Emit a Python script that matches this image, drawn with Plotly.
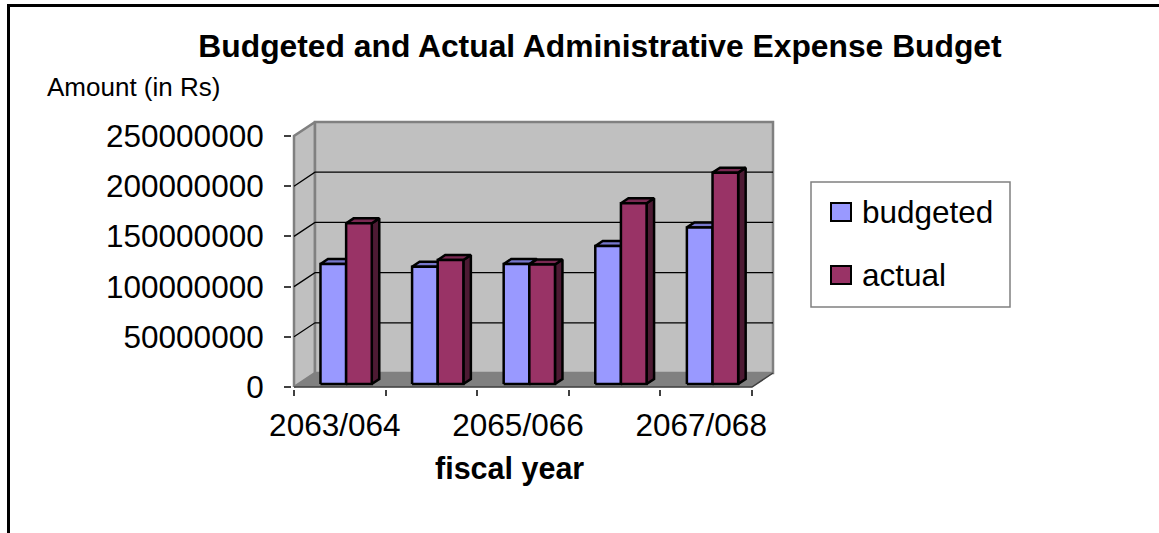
import plotly.graph_objects as go

# ---- data -------------------------------------------------------------
fiscal_years = ["2063/064", "2064/065", "2065/066", "2066/067", "2067/068"]
budgeted = [119500000, 116800000, 119500000, 137500000, 156000000]
actual = [160000000, 123500000, 119000000, 180000000, 210500000]
y_ticks = [0, 50000000, 100000000, 150000000, 200000000, 250000000]
series_names = ["budgeted", "actual"]

# ---- style ------------------------------------------------------------
FONT = "Liberation Sans, Arial, sans-serif"
FACE = {  # front, top, side
    "budgeted": ("#9999FF", "#7777CC", "#4D4D80"),
    "actual": ("#993366", "#7A2952", "#4D1A33"),
}
WALL = "#C0C0C0"
WALL_EDGE = "#808080"
FLOOR = "#808080"

W, H = 1159, 533
CAT_PX = 91.6                 # pixels per category on the front plane
VAL_PX = 251 / 250000000      # pixels per rupee
DEPTH_X_PX, DEPTH_Y_PX = 21, 14
PAD = 2

N = len(fiscal_years)
Y_MAX = y_ticks[-1]
DX = DEPTH_X_PX / CAT_PX
DY = DEPTH_Y_PX / VAL_PX
PX_X = PAD / CAT_PX
PX_Y = PAD / VAL_PX

PLOT_W = (N + DX) * CAT_PX + 2 * PAD
PLOT_H = (Y_MAX + DY) * VAL_PX + 2 * PAD
ML = 294 - PAD
MT = 122 - PAD
MR = W - ML - PLOT_W
MB = H - MT - PLOT_H

# bar footprint inside a category (front-plane units) and its depth span
BAR_SLOTS = {"budgeted": (0.24, 0.52), "actual": (0.52, 0.80)}
T0, T1 = 0.214, 0.571


def px_x(p):
    return (p - ML) / PLOT_W


def px_y(p):
    return 1 - (p - MT) / PLOT_H


def proj(x, v, t):
    return x + t * DX, v + t * DY


def poly(points):
    xs, ys = [], []
    for x, v, t in points + [points[0]]:
        px, py = proj(x, v, t)
        xs.append(px)
        ys.append(py)
    return xs, ys


def poly_trace(groups, fill, line_color, line_width, name=None):
    xs, ys = [], []
    for g in groups:
        gx, gy = poly(g)
        xs += gx + [None]
        ys += gy + [None]
    return go.Scatter(
        x=xs, y=ys, mode="lines", fill="toself", fillcolor=fill,
        line=dict(color=line_color, width=line_width),
        hoverinfo="skip", showlegend=False, name=name,
    )


fig = go.Figure()

# walls and floor
fig.add_trace(poly_trace([[(0, 0, 0), (0, Y_MAX, 0), (0, Y_MAX, 1), (0, 0, 1)]],
                         WALL, WALL_EDGE, 2.5))
fig.add_trace(poly_trace([[(0, 0, 1), (N, 0, 1), (N, Y_MAX, 1), (0, Y_MAX, 1)]],
                         WALL, WALL_EDGE, 2.5))
fig.add_trace(poly_trace([[(0, 0, 0), (N, 0, 0), (N, 0, 1), (0, 0, 1)]],
                         FLOOR, FLOOR, 0.5))

# gridlines across the left and back walls
gx, gy = [], []
for v in y_ticks[1:-1]:
    for x, t in [(0, 0), (0, 1), (N, 1)]:
        px, py = proj(x, v, t)
        gx.append(px)
        gy.append(py)
    gx.append(None)
    gy.append(None)
fig.add_trace(go.Scatter(x=gx, y=gy, mode="lines", line=dict(color="black", width=1.3),
                         hoverinfo="skip", showlegend=False))

# front edge and right edge of the floor
ex, ey = [], []
for x, v, t in [(0, 0, 0), (N, 0, 0), (N, 0, 1)]:
    px, py = proj(x, v, t)
    ex.append(px)
    ey.append(py)
fig.add_trace(go.Scatter(x=ex, y=ey, mode="lines", line=dict(color="#404040", width=1.5),
                         hoverinfo="skip", showlegend=False))

# 3-D columns, painted left to right
for name, values in zip(series_names, [budgeted, actual]):
    a, b = BAR_SLOTS[name]
    fronts, tops, sides = [], [], []
    for i, val in enumerate(values):
        x0, x1 = i + a, i + b
        fronts.append([(x0, 0, T0), (x1, 0, T0), (x1, val, T0), (x0, val, T0)])
        tops.append([(x0, val, T0), (x1, val, T0), (x1, val, T1), (x0, val, T1)])
        sides.append([(x1, 0, T0), (x1, val, T0), (x1, val, T1), (x1, 0, T1)])
    front_c, top_c, side_c = FACE[name]
    fig.add_trace(poly_trace(sides, side_c, "black", 2.5, name))
    fig.add_trace(poly_trace(tops, top_c, "black", 2.5, name))
    fig.add_trace(poly_trace(fronts, front_c, "black", 2.5, name))

# frame lines along the top and left of the chart area
shapes = [
    dict(type="line", xref="paper", yref="paper", x0=px_x(7), x1=px_x(W + 2),
         y0=px_y(5.5), y1=px_y(5.5), line=dict(color="black", width=3)),
    dict(type="line", xref="paper", yref="paper", x0=px_x(8.5), x1=px_x(8.5),
         y0=px_y(4), y1=px_y(H + 2), line=dict(color="black", width=3)),
    # legend box
    dict(type="rect", xref="paper", yref="paper", x0=px_x(811), x1=px_x(1010),
         y0=px_y(182), y1=px_y(307), line=dict(color="#808080", width=1.5),
         fillcolor="white"),
]
annotations = []
legend_rows = [203, 266]
for name, top in zip(series_names, legend_rows):
    shapes.append(dict(type="rect", xref="paper", yref="paper",
                       x0=px_x(831), x1=px_x(851), y0=px_y(top), y1=px_y(top + 18),
                       fillcolor=FACE[name][0], line=dict(color="black", width=2)))
    annotations.append(dict(text=name, xref="paper", yref="paper",
                            x=px_x(860), y=px_y(top + 9), xanchor="left", yanchor="middle",
                            showarrow=False, font=dict(family=FONT, size=31.5, color="black")))

annotations.append(dict(text="Amount (in Rs)", xref="paper", yref="paper",
                        x=px_x(45), y=px_y(87), xanchor="left", yanchor="middle",
                        showarrow=False, font=dict(family=FONT, size=26, color="black")))
annotations.append(dict(text="fiscal year", xref="paper", yref="paper",
                        x=px_x(509), y=px_y(468), xanchor="center", yanchor="middle",
                        showarrow=False,
                        font=dict(family=FONT, size=30.5, color="black", weight="bold")))

label_idx = list(range(0, N, 2))
fig.update_layout(
    width=W, height=H, template="none",
    paper_bgcolor="white", plot_bgcolor="rgba(0,0,0,0)",
    margin=dict(l=ML, r=MR, t=MT, b=MB, pad=0, autoexpand=False),
    showlegend=False,
    title=dict(text="Budgeted and Actual Administrative Expense Budget",
               x=600 / W, y=1 - 46 / H, xanchor="center", yanchor="middle",
               xref="container", yref="container",
               font=dict(family=FONT, size=31.8, color="black", weight="bold")),
    shapes=shapes, annotations=annotations,
    xaxis=dict(range=[-PX_X, N + DX + PX_X], showgrid=False, zeroline=False,
               showline=False, automargin=False, fixedrange=True,
               tickmode="array",
               tickvals=[i + 0.5 - 5 / CAT_PX for i in label_idx],
               ticktext=[fiscal_years[i] for i in label_idx],
               ticks="", ticklabelstandoff=14,
               tickfont=dict(family=FONT, size=31.5, color="black"),
               minor=dict(tickmode="array", tickvals=list(range(N + 1)),
                          ticks="outside", ticklen=6, tickwidth=1.5, tickcolor="#404040")),
    yaxis=dict(range=[-PX_Y, Y_MAX + DY + PX_Y], showgrid=False, zeroline=False,
               showline=False, automargin=False, fixedrange=True,
               tickmode="array", tickvals=y_ticks, ticktext=[str(v) for v in y_ticks],
               ticks="outside", ticklen=7, tickwidth=1.5, tickcolor="#404040",
               ticklabelstandoff=14,
               tickfont=dict(family=FONT, size=31.5, color="black")),
)

fig.write_html("out.html")
